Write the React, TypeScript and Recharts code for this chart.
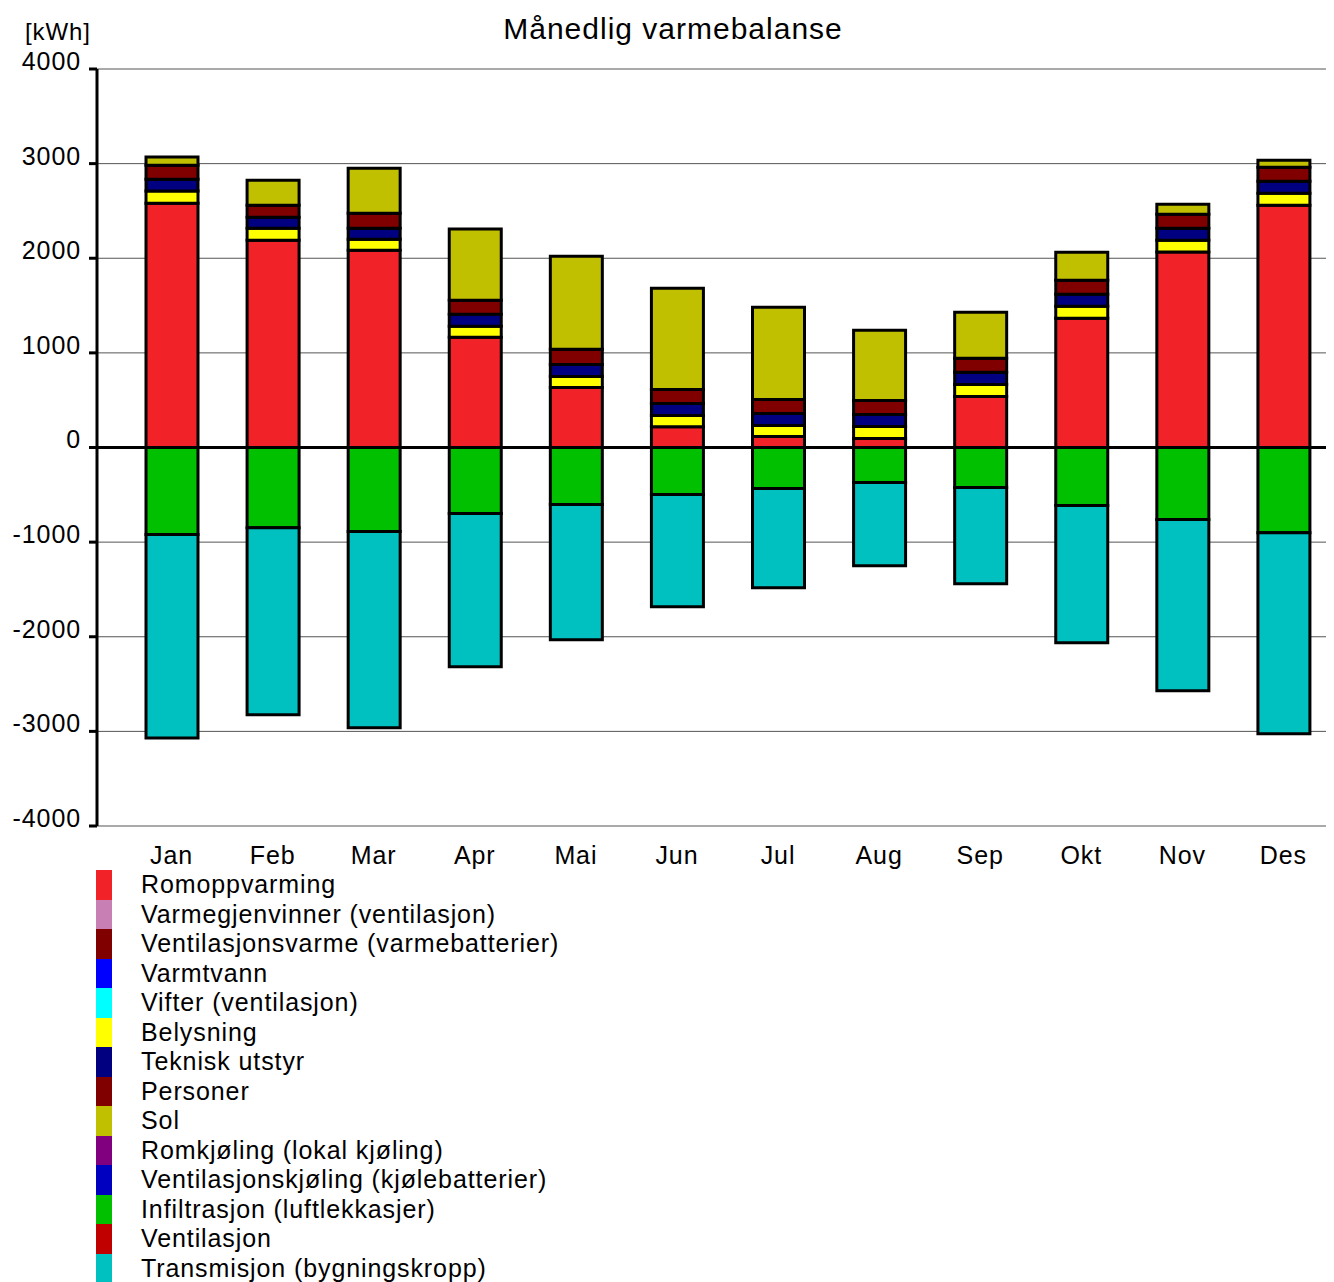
import { BarChart, Bar, XAxis, YAxis, CartesianGrid, ReferenceLine } from "recharts";

const months = ["Jan", "Feb", "Mar", "Apr", "Mai", "Jun", "Jul", "Aug", "Sep", "Okt", "Nov", "Des"];
const romoppvarming = [2580, 2190, 2085, 1165, 635, 220, 115, 95, 540, 1365, 2065, 2560];
const belysning = [130, 127, 115, 116, 116, 119, 118, 127, 127, 127, 125, 127];
const tekniskUtstyr = [126, 117, 117, 127, 127, 127, 127, 127, 127, 127, 127, 127];
const personer = [148, 127, 159, 149, 159, 148, 148, 148, 148, 148, 149, 148];
const sol = [85, 264, 476, 751, 984, 1069, 973, 741, 487, 296, 105, 74];
const infiltrasjon = [-920, -847, -889, -698, -603, -497, -434, -370, -423, -614, -762, -900];
const transmisjon = [-2149, -1978, -2074, -1619, -1429, -1186, -1047, -879, -1016, -1449, -1809, -2126];
const yTicks = [-4000, -3000, -2000, -1000, 0, 1000, 2000, 3000, 4000];

const legendItems = [
  { name: "Romoppvarming", color: "#F22229" },
  { name: "Varmegjenvinner (ventilasjon)", color: "#C87FB4" },
  { name: "Ventilasjonsvarme (varmebatterier)", color: "#800000" },
  { name: "Varmtvann", color: "#0000FF" },
  { name: "Vifter (ventilasjon)", color: "#00FFFF" },
  { name: "Belysning", color: "#FFFF00" },
  { name: "Teknisk utstyr", color: "#000080" },
  { name: "Personer", color: "#800000" },
  { name: "Sol", color: "#C0C000" },
  { name: "Romkjøling (lokal kjøling)", color: "#800080" },
  { name: "Ventilasjonskjøling (kjølebatterier)", color: "#0000C0" },
  { name: "Infiltrasjon (luftlekkasjer)", color: "#00C000" },
  { name: "Ventilasjon", color: "#C00000" },
  { name: "Transmisjon (bygningskropp)", color: "#00C0C0" },
];

const data = months.map((m, i) => ({
  month: m,
  rom: romoppvarming[i],
  bel: belysning[i],
  tek: tekniskUtstyr[i],
  per: personer[i],
  sol: sol[i],
  inf: infiltrasjon[i],
  tra: transmisjon[i],
}));

const font = "Arial, 'Liberation Sans', sans-serif";
const wide = 0.9;

export default function App() {
  const barProps = { stackId: "a", stroke: "#000", strokeWidth: 3, isAnimationActive: false };
  return (
    <div style={{ position: "relative", width: 1326, height: 1274, overflow: "hidden", fontFamily: font }}>
      <div style={{ position: "absolute", top: 4, left: 0, width: 1330, textAlign: "center", fontSize: 30, letterSpacing: 1 }}>
        Månedlig varmebalanse
      </div>
      <div style={{ position: "absolute", top: 10, left: 17, fontSize: 24, letterSpacing: wide }}>[kWh]</div>
      <BarChart
        width={1326}
        height={883}
        data={data}
        margin={{ top: 61, right: 0, bottom: 35, left: 0 }}
        barSize={52}
        stackOffset="sign"
      >
        <CartesianGrid vertical={false} stroke="#555" strokeWidth={1} />
        <XAxis
          dataKey="month"
          axisLine={false}
          tickLine={false}
          padding={{ left: 24, right: 0 }}
          tick={{ fill: "#000", fontSize: 25, fontFamily: font, letterSpacing: wide }}
          tickMargin={14}
        />
        <YAxis
          width={89}
          domain={[-4000, 4000]}
          ticks={yTicks}
          interval={0}
          axisLine={{ stroke: "#000", strokeWidth: 3 }}
          tickLine={{ stroke: "#000", strokeWidth: 3 }}
          tickSize={8}
          tick={{ fill: "#000", fontSize: 25, fontFamily: font, dy: -8, dx: -6, letterSpacing: wide }}
        />
        <Bar dataKey="rom" fill="#F22229" {...barProps} />
        <Bar dataKey="bel" fill="#FFFF00" {...barProps} />
        <Bar dataKey="tek" fill="#000080" {...barProps} />
        <Bar dataKey="per" fill="#800000" {...barProps} />
        <Bar dataKey="sol" fill="#C0C000" {...barProps} />
        <Bar dataKey="inf" fill="#00C000" {...barProps} />
        <Bar dataKey="tra" fill="#00C0C0" {...barProps} />
        <ReferenceLine y={0} stroke="#000" strokeWidth={3} />
      </BarChart>
      <div style={{ position: "absolute", top: 862, left: 88 }}>
        {legendItems.map((it) => (
          <div key={it.name} style={{ display: "flex", alignItems: "center", height: 29.5 }}>
            <div style={{ width: 16, height: 29.5, background: it.color }} />
            <div style={{ marginLeft: 29, fontSize: 25, letterSpacing: wide, whiteSpace: "nowrap" }}>{it.name}</div>
          </div>
        ))}
      </div>
    </div>
  );
}
